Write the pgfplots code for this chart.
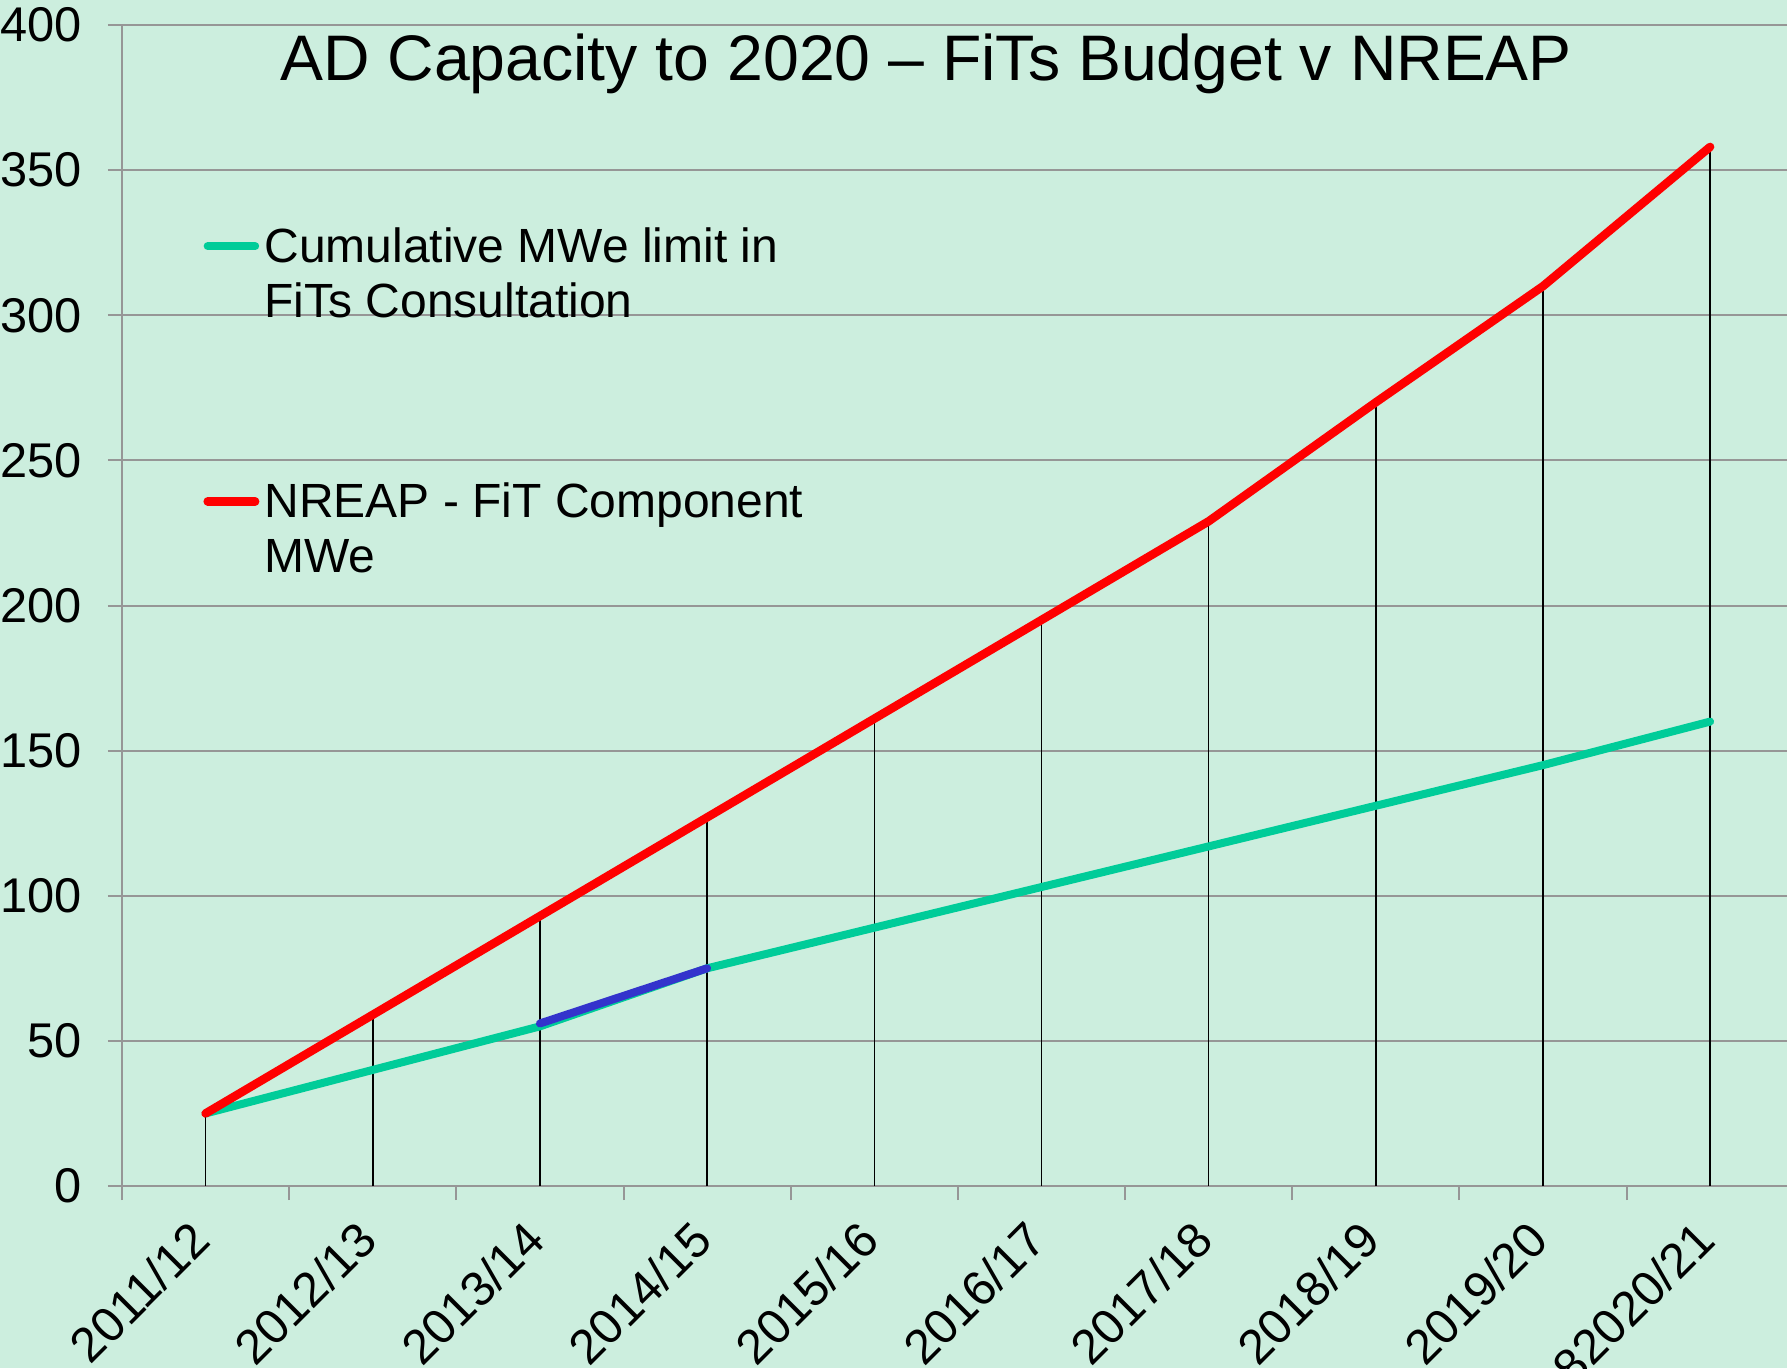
\documentclass[border=0pt]{standalone}
\usepackage{pgfplots}
\pgfplotsset{compat=1.18}
\usepackage{fontspec}
\setmainfont{Liberation Sans}
\definecolor{bgc}{RGB}{204,238,222}
\definecolor{fitgreen}{RGB}{0,204,153}
\definecolor{nreapred}{RGB}{255,0,0}
\definecolor{segblue}{RGB}{51,51,204}
\definecolor{gridc}{RGB}{150,150,150}
\begin{document}
\begin{tikzpicture}
\useasboundingbox (0,0) rectangle (714.8pt,547.2pt);
\fill[bgc] (0,0) rectangle (714.8pt,547.2pt);
\clip (0,0) rectangle (714.8pt,547.2pt);
\begin{axis}[
  scale only axis,
  width=666pt, height=464.4pt,
  at={(48.8pt,72.8pt)}, anchor=south west,
  xmin=-0.5, xmax=9.46,
  ymin=0, ymax=400,
  axis x line*=bottom, axis y line*=left,
  axis line style={gridc, line width=0.8pt},
  tick align=outside,
  xtick={0,...,9},
  xticklabels={2011/12,2012/13,2013/14,2014/15,2015/16,2016/17,2017/18,2018/19,2019/20,82020/21},
  minor xtick={-0.5,0.5,...,8.5},
  major x tick style={draw=none},
  minor x tick style={gridc, line width=0.8pt},
  minor tick length=5.6pt,
  ytick={0,50,...,400},
  major tick length=5.6pt,
  y tick style={gridc, line width=0.8pt},
  ymajorgrids,
  grid style={gridc, line width=0.8pt},
  /pgf/number format/assume math mode=true,
  yticklabel style={font=\fontsize{19.5}{23}\selectfont, text=black, xshift=-7pt},
  xticklabel style={font=\fontsize{19.5}{23}\selectfont, text=black, rotate=45, anchor=north east, inner sep=2pt, xshift=-8pt, yshift=2pt},
  title={AD Capacity to 2020 -- FiTs Budget v NREAP},
  title style={at={(axis description cs:0.483,0.939)}, anchor=base, font=\fontsize{25.75}{30}\selectfont, inner sep=0pt},
  legend cell align=left,
  legend style={at={(axis description cs:0.0486,0.83)}, anchor=north west, draw=none, fill=none,
    font=\fontsize{19.2}{22}\selectfont, row sep=60.7pt, inner sep=0pt,
    cells={align=left}},
  legend image code/.code={\draw[#1, line cap=round] (0pt,11.4pt) -- (19pt,11.4pt); \path (0pt,-11.4pt);},
]
\addplot[ycomb, black, line width=0.6pt, forget plot] coordinates {
 (0,25) (1,59) (2,93) (3,127) (4,161) (5,195) (6,229) (7,270) (8,310) (9,358)};
\addplot[fitgreen, line width=3.2pt, line cap=round, line join=round] coordinates {
 (0,25) (1,40) (2,55) (3,75) (4,89) (5,103) (6,117) (7,131) (8,145) (9,160)};
\addlegendentry{Cumulative MWe limit in\\FiTs Consultation}
\addplot[nreapred, line width=3.4pt, line cap=round, line join=round] coordinates {
 (0,25) (1,59) (2,93) (3,127) (4,161) (5,195) (6,229) (7,270) (8,310) (9,358)};
\addlegendentry{NREAP - FiT Component\\MWe}
\addplot[segblue, line width=3.2pt, line cap=round, forget plot] coordinates {
 (2,56) (3,75)};
\end{axis}
\end{tikzpicture}
\end{document}
